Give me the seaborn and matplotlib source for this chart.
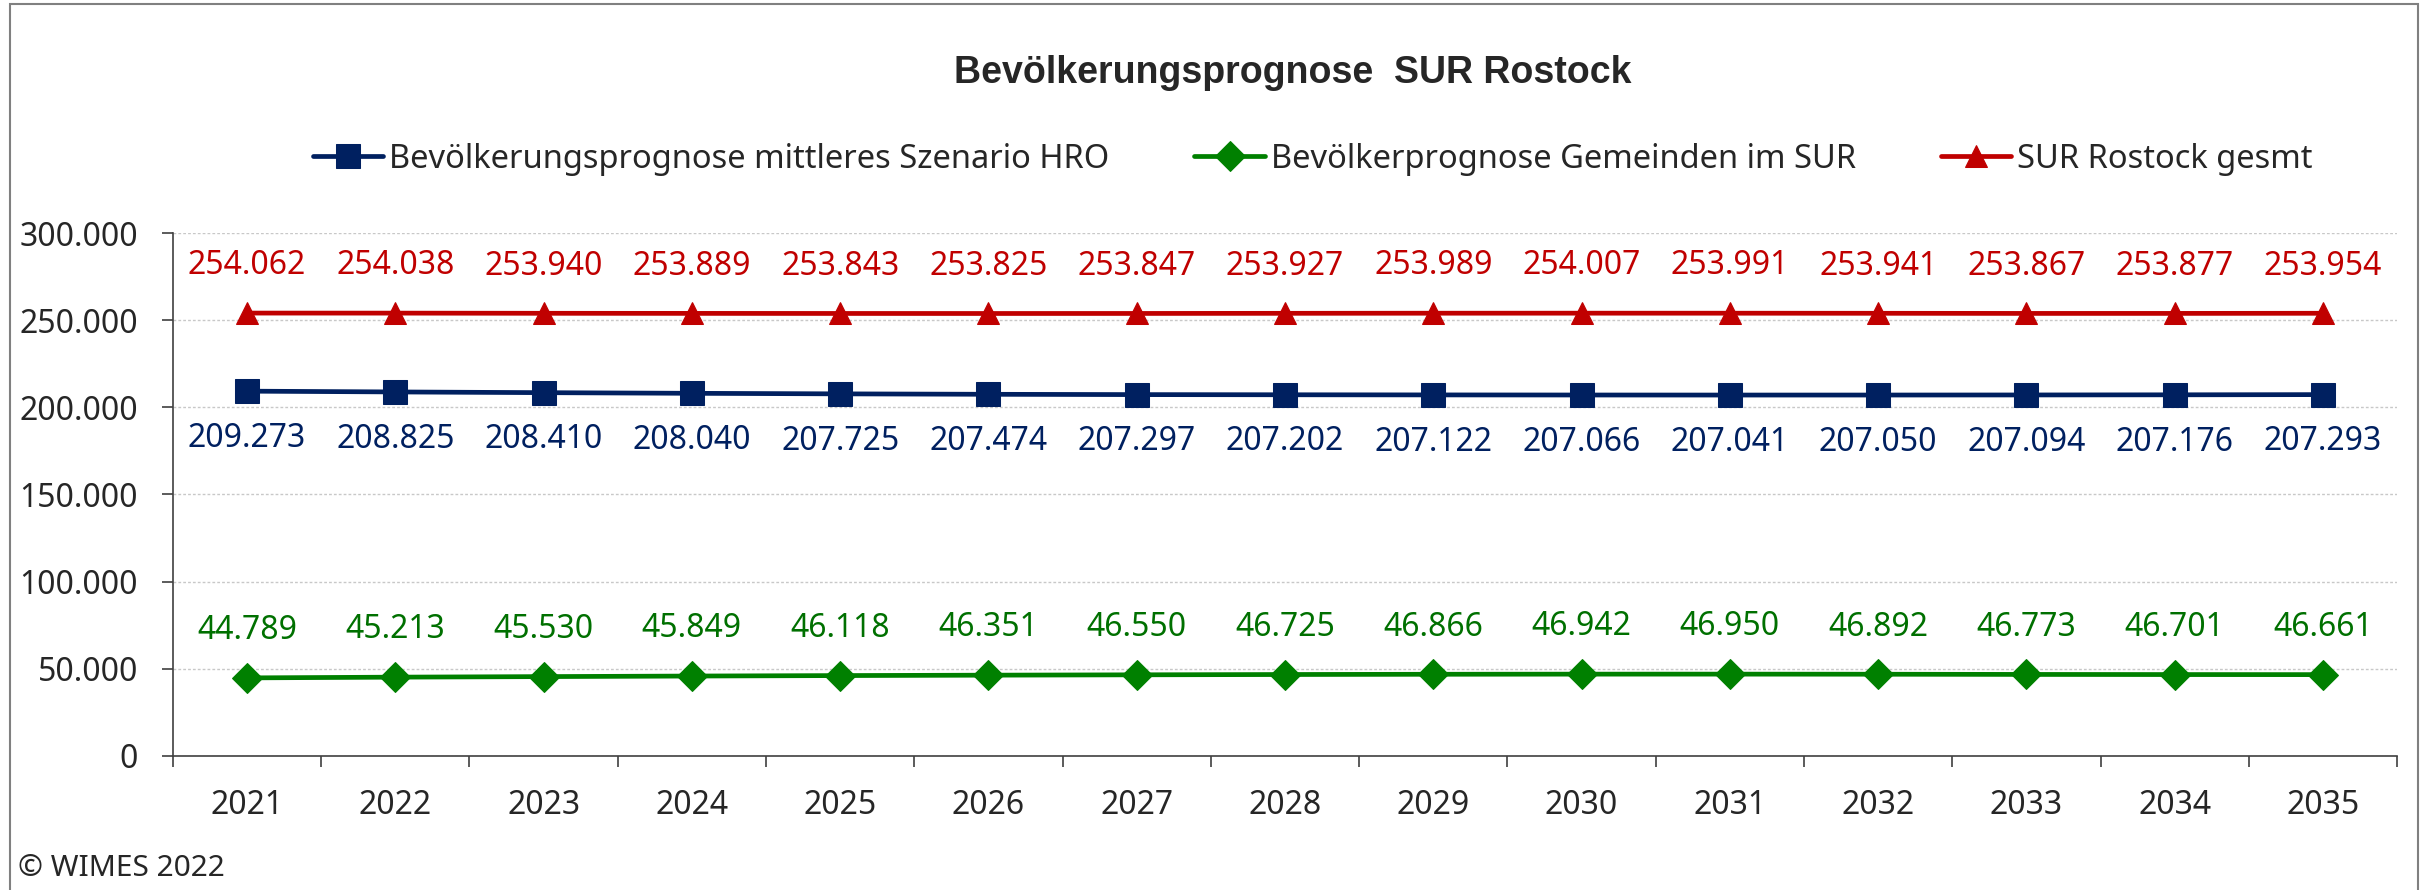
import matplotlib
matplotlib.use("Agg")
import matplotlib.pyplot as plt
import matplotlib.ticker as mticker
from matplotlib.patches import Rectangle
import seaborn as sns
import pandas as pd

years = ["2021", "2022", "2023", "2024", "2025", "2026", "2027", "2028",
         "2029", "2030", "2031", "2032", "2033", "2034", "2035"]
hro = [209273, 208825, 208410, 208040, 207725, 207474, 207297, 207202,
       207122, 207066, 207041, 207050, 207094, 207176, 207293]
gemeinden = [44789, 45213, 45530, 45849, 46118, 46351, 46550, 46725,
             46866, 46942, 46950, 46892, 46773, 46701, 46661]
sur = [254062, 254038, 253940, 253889, 253843, 253825, 253847, 253927,
       253989, 254007, 253991, 253941, 253867, 253877, 253954]
series_names = ["Bevölkerungsprognose mittleres Szenario HRO",
                "Bevölkerprognose Gemeinden im SUR",
                "SUR Rostock gesmt"]
title = "Bevölkerungsprognose  SUR Rostock"
y_ticks = [0, 50000, 100000, 150000, 200000, 250000, 300000]

sns.set_theme(style="white")
plt.rcParams["font.family"] = ["Noto Sans", "DejaVu Sans"]

def de(v):
    return f"{int(round(v)):,}".replace(",", ".")

fig = plt.figure(figsize=(24.25, 8.9), dpi=100)
ax = fig.add_axes([0.0713, 0.1506, 0.9172, 0.5876])

df = pd.DataFrame({"Jahr": years, "hro": hro, "gem": gemeinden, "sur": sur})

specs = [
    ("hro", series_names[0], "#002060", "s", 17, -1),
    ("gem", series_names[1], "#008000", "D", 15, 1),
    ("sur", series_names[2], "#C00000", "^", 16, 1),
]
label_colors = {"hro": "#002060", "gem": "#007000", "sur": "#C00000"}

for col, name, color, mk, ms, side in specs:
    sns.lineplot(data=df, x="Jahr", y=col, ax=ax, color=color, marker=mk,
                 markersize=ms, markeredgecolor=color, linewidth=3.4,
                 label=name, sort=False)
    for i, v in enumerate(df[col]):
        ax.annotate(de(v), (i, v), xytext=(0, 34 * side), textcoords="offset points",
                    ha="center", va="center", fontsize=23, color=label_colors[col])

ax.set_xlim(-0.5, len(years) - 0.5)
ax.set_ylim(0, 300000)
ax.set_yticks(y_ticks)
ax.yaxis.set_major_formatter(mticker.FuncFormatter(lambda v, p: de(v)))
ax.tick_params(axis="y", which="major", length=8, width=1.2, color="#404040",
               direction="out", labelsize=23, pad=17, left=True)

# category boundaries as major ticks, labels at centers via minor ticks
ax.set_xticks([i - 0.5 for i in range(len(years) + 1)])
ax.set_xticklabels([])
ax.set_xticks(list(range(len(years))), minor=True)
ax.set_xticklabels(years, minor=True)
ax.tick_params(axis="x", which="major", length=8, width=1.2, color="#404040",
               direction="out", bottom=True)
ax.tick_params(axis="x", which="minor", length=0, labelsize=23, pad=24)
ax.set_xlabel("")
ax.set_ylabel("")

ax.grid(axis="y", color="#C8C8C8", linestyle=(0, (2, 1.5)), linewidth=1)
ax.grid(axis="x", visible=False)
for s in ["top", "right"]:
    ax.spines[s].set_visible(False)
for s in ["left", "bottom"]:
    ax.spines[s].set_color("#404040")
    ax.spines[s].set_linewidth(1.2)

handles, labels = ax.get_legend_handles_labels()
ax.legend_.remove()
fig.legend(handles, labels, loc="center left", bbox_to_anchor=(313 / 2425, 0.821),
           ncol=3, frameon=False, fontsize=23.5, handlelength=2.15,
           handletextpad=0.19, columnspacing=2.6, borderpad=0, borderaxespad=0)

fig.text(0.533, 0.918, title, ha="center", va="center", fontsize=27,
         fontweight="bold", family=["Liberation Sans", "DejaVu Sans"])
fig.text(0.0075, 0.0236, "© WIMES 2022", ha="left", va="center", fontsize=21.5)

fig.patches.append(Rectangle((10 / 2425, -0.01), (2418 - 10) / 2425, 1 - 4 / 890 + 0.01,
                             transform=fig.transFigure, fill=False,
                             edgecolor="#808080", linewidth=1.5))

fig.savefig("out.png", dpi=100, facecolor="white")
